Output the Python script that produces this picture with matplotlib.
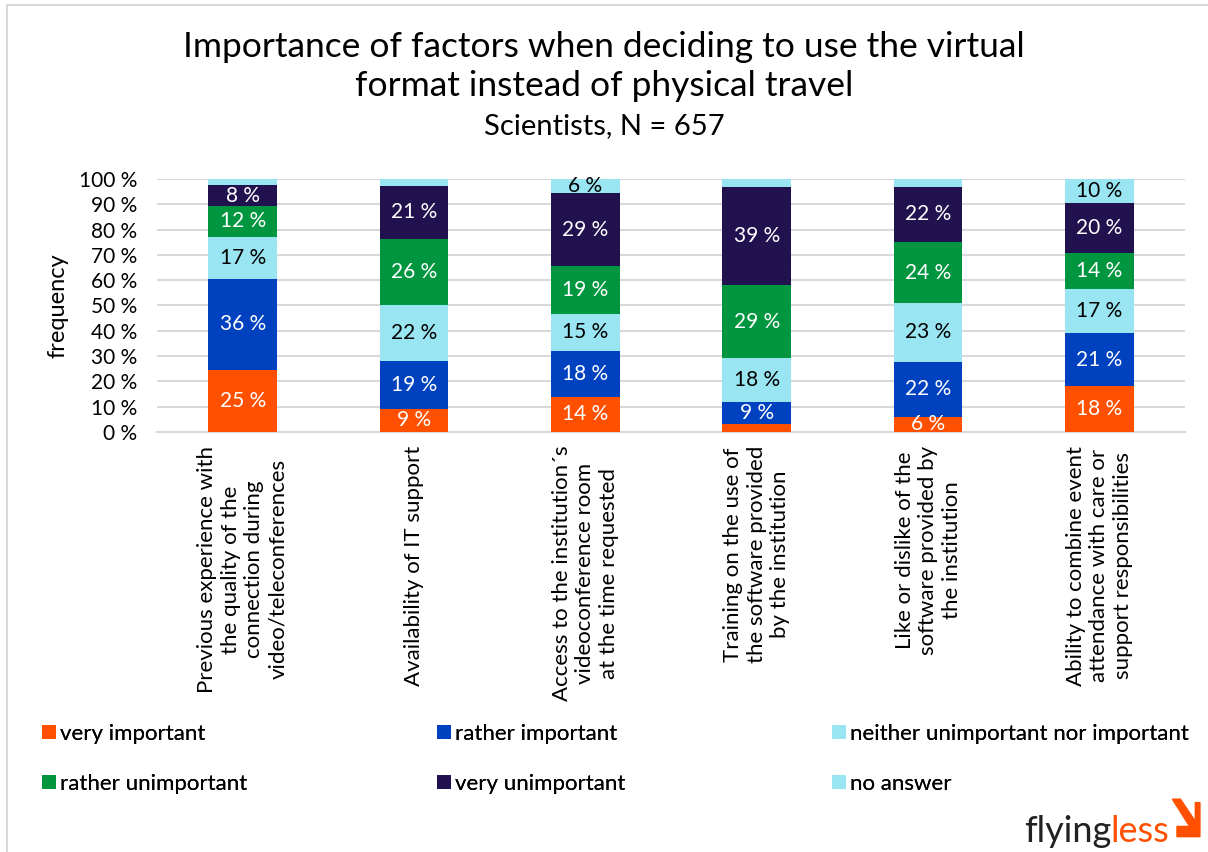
import matplotlib.pyplot as plt
from matplotlib.patches import Patch, Polygon
from matplotlib.lines import Line2D
import numpy as np

plt.rcParams["font.family"] = ["Lato", "DejaVu Sans"]

categories = [
    "Previous experience with\nthe quality of the\nconnection during\nvideo/teleconferences",
    "Availability of IT support",
    "Access to the institution\u00b4s\nvideoconference room\nat the time requested",
    "Training on the use of\nthe software provided\nby the institution",
    "Like or dislike of the\nsoftware provided by\nthe institution",
    "Ability to combine event\nattendance with care or\nsupport responsibilities",
]

series_names = [
    "very important",
    "rather important",
    "neither unimportant nor important",
    "rather unimportant",
    "very unimportant",
    "no answer",
]

very_important = [24.6, 9.1, 14.0, 3.0, 5.9, 18.0]
rather_important = [35.8, 18.8, 17.9, 8.7, 21.8, 21.0]
neither = [16.8, 22.1, 14.9, 17.5, 23.3, 17.4]
rather_unimportant = [12.2, 26.4, 18.8, 28.9, 23.9, 14.4]
very_unimportant = [8.0, 20.8, 28.8, 38.6, 22.1, 19.6]
no_answer = [2.6, 2.8, 5.6, 3.3, 3.0, 9.6]

series = [very_important, rather_important, neither,
          rather_unimportant, very_unimportant, no_answer]
colors = ["#FF5000", "#0041C0", "#99E5F2", "#00963F", "#21124F", "#99E5F2"]
text_colors = ["white", "white", "black", "white", "white", "black"]

fig = plt.figure(figsize=(12.08, 8.52), dpi=100)
ax = fig.add_axes([0.130, 0.493, 0.851, 0.297])

x = np.arange(len(categories))
bottom = np.zeros(len(categories))
for vals, col, tcol in zip(series, colors, text_colors):
    vals = np.array(vals)
    ax.bar(x, vals, width=0.4, bottom=bottom, color=col, zorder=3)
    for xi, b, v in zip(x, bottom, vals):
        if v >= 5:
            ax.text(xi, b + v / 2, f"{round(v)} %", ha="center", va="center",
                    color=tcol, fontsize=15, zorder=4)
    bottom += vals

ax.set_xlim(-0.5, len(categories) - 0.5)
ax.set_ylim(0, 100)
ax.set_yticks(np.arange(0, 101, 10))
ax.set_yticklabels([f"{t} %" for t in range(0, 101, 10)], fontsize=15)
ax.yaxis.grid(True, color="#d9d9d9", linewidth=1.5, zorder=0)
ax.set_axisbelow(True)
for s in ["top", "right", "left"]:
    ax.spines[s].set_visible(False)
ax.spines["bottom"].set_color("#d9d9d9")
ax.spines["bottom"].set_linewidth(1.5)
ax.tick_params(axis="y", length=0, pad=14)
ax.tick_params(axis="x", length=0, pad=10)
ax.set_xticks(x)
ax.set_xticklabels(categories, rotation=90, ha="center", va="top",
                   multialignment="center", fontsize=16, linespacing=1.22)
ax.set_ylabel("frequency", fontsize=17, labelpad=8)

fig.text(0.5, 0.922, "Importance of factors when deciding to use the virtual\nformat instead of physical travel",
         ha="center", va="center", fontsize=25.5, linespacing=1.3)
fig.text(0.5, 0.852, "Scientists, N = 657", ha="center", va="center", fontsize=21)

# legend: three columns, two rows
handles = [Patch(facecolor=c) for c in colors]
col_x = [0.035, 0.362, 0.689]
for i, cx in enumerate(col_x):
    idx = [i, i + 3]
    leg = fig.legend([handles[j] for j in idx], [series_names[j] for j in idx],
                     loc="upper left", bbox_to_anchor=(cx, 0.150), frameon=False,
                     fontsize=16, handlelength=0.6, handleheight=0.6,
                     handletextpad=0.2, labelspacing=1.33, borderpad=0,
                     borderaxespad=0)
    fig.add_artist(leg)

# figure frame
fig.add_artist(Line2D([0.006, 0.006], [0, 0.994], color="#d9d9d9", linewidth=1.5))
fig.add_artist(Line2D([0.006, 1.0], [0.994, 0.994], color="#d9d9d9", linewidth=1.5))

# logo
renderer = fig.canvas.get_renderer()
t1 = fig.text(0.848, 0.012, "flying", ha="left", va="baseline", fontsize=26,
              color="#222222")
ext = t1.get_window_extent(renderer)
x_less = fig.transFigure.inverted().transform((ext.x1 - 1, 0))[0]
t2 = fig.text(x_less, 0.012, "less", ha="left", va="baseline", fontsize=26,
              color="#FF5000")
ext2 = t2.get_window_extent(renderer)
ax0 = fig.transFigure.inverted().transform((ext2.x1 + 3, 0))[0]
w = 0.019
arrow = Polygon([[ax0, 0.062], [ax0 + 0.35 * w, 0.062], [ax0 + w, 0.036],
                 [ax0 + w, 0.058], [ax0 + 1.2 * w, 0.058], [ax0 + 1.2 * w, 0.018],
                 [ax0 + 0.2 * w, 0.018], [ax0 + 0.2 * w, 0.030],
                 [ax0 + 0.75 * w, 0.030]],
                closed=True, transform=fig.transFigure, color="#FF5000")
fig.add_artist(arrow)

fig.savefig("out.png", dpi=100, facecolor="white")
